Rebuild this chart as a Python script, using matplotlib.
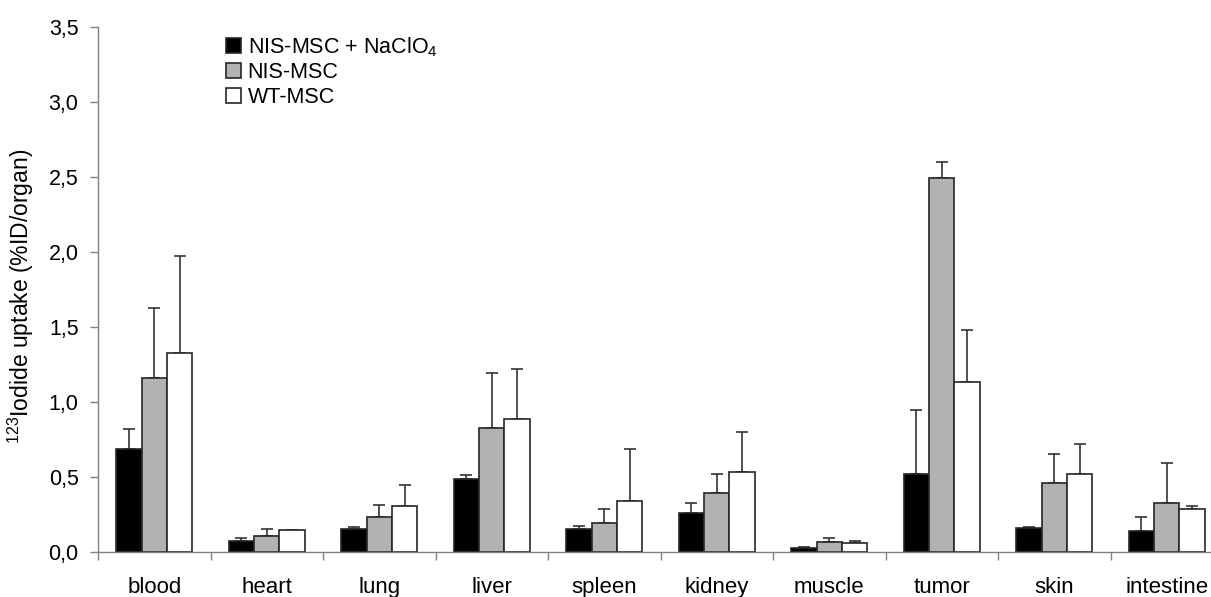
import matplotlib
matplotlib.use("Agg")
import matplotlib.pyplot as plt
import numpy as np

plt.rcParams["font.family"] = ["Liberation Sans", "DejaVu Sans"]
plt.rcParams["mathtext.fontset"] = "custom"
plt.rcParams["mathtext.rm"] = "Liberation Sans"

organs = ["blood", "heart", "lung", "liver", "spleen", "kidney",
          "muscle", "tumor", "skin", "intestine"]
series = ["NIS-MSC + NaClO$_\\mathregular{4}$", "NIS-MSC", "WT-MSC"]

nis_naclo4 = [0.687, 0.073, 0.151, 0.487, 0.151, 0.262, 0.024, 0.520, 0.158, 0.140]
nis_msc = [1.160, 0.107, 0.231, 0.824, 0.196, 0.396, 0.065, 2.491, 0.462, 0.329]
wt_msc = [1.330, 0.149, 0.307, 0.884, 0.342, 0.531, 0.058, 1.133, 0.518, 0.289]

nis_naclo4_err = [0.133, 0.020, 0.016, 0.024, 0.020, 0.065, 0.012, 0.429, 0.009, 0.091]
nis_msc_err = [0.467, 0.044, 0.082, 0.367, 0.093, 0.122, 0.028, 0.107, 0.191, 0.266]
wt_msc_err = [0.643, 0.000, 0.140, 0.336, 0.345, 0.269, 0.015, 0.347, 0.202, 0.018]

values = [nis_naclo4, nis_msc, wt_msc]
errors = [nis_naclo4_err, nis_msc_err, wt_msc_err]
colors = ["#000000", "#b2b2b2", "#ffffff"]

W, H = 1211, 597
fig = plt.figure(figsize=(W / 100, H / 100), dpi=100)
ax = fig.add_axes([98 / W, 45 / H, 1125 / W, 525 / H])

x = np.arange(len(organs))
width = 0.226
for i, (vals, errs, c, lab) in enumerate(zip(values, errors, colors, series)):
    pos = x + (i - 1) * width
    ax.bar(pos, vals, width=width, color=c, edgecolor="#262626",
           linewidth=1.2, label=lab, zorder=2)
    ax.errorbar(pos, vals, yerr=[np.zeros(len(errs)), errs], fmt="none",
                ecolor="#333333", elinewidth=1.2, capsize=4.3,
                capthick=1.2, zorder=1)

ax.set_xlim(-0.5, len(organs) - 0.5)
ax.set_ylim(0, 3.5)

ax.set_yticks(np.arange(0, 3.51, 0.5))
ax.set_yticklabels([f"{v:.1f}".replace(".", ",") for v in np.arange(0, 3.51, 0.5)])
ax.set_xticks(x)
ax.set_xticklabels(organs)
ax.set_xticks(np.arange(-0.5, len(organs), 1.0), minor=True)
ax.tick_params(axis="x", which="major", length=0, pad=18, labelsize=16)
ax.tick_params(axis="x", which="minor", length=6, width=1, color="#808080")
ax.tick_params(axis="y", length=6, width=1, color="#808080", pad=8,
               labelsize=15.5)

for s in ["top", "right"]:
    ax.spines[s].set_visible(False)
for s in ["left", "bottom"]:
    ax.spines[s].set_color("#808080")
    ax.spines[s].set_linewidth(1)

ax.set_ylabel("$^{\\mathregular{123}}$Iodide uptake (%ID/organ)", fontsize=16.5)
ax.yaxis.set_label_coords(-62 / 1125, 0.487)

ax.legend(loc="upper left", bbox_to_anchor=(226 / W, 1 - 35 / H),
          bbox_transform=fig.transFigure, frameon=False, fontsize=15.5,
          handlelength=0.7, handleheight=0.7, handletextpad=0.3,
          labelspacing=0.18, borderpad=0, borderaxespad=0)

fig.savefig("out.png", dpi=100)
